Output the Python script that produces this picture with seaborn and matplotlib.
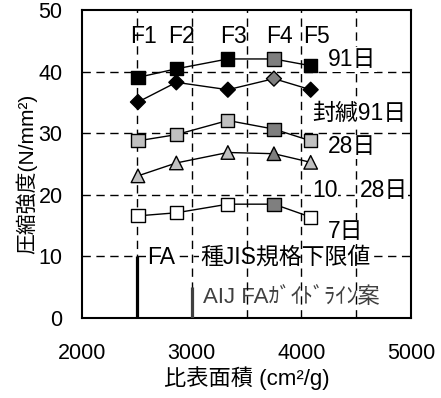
import matplotlib
matplotlib.use("Agg")
import matplotlib.pyplot as plt
import seaborn as sns
import pandas as pd

# Specific surface area of each fly ash (cm2/g)
fa_names = ["F1", "F2", "F3", "F4", "F5"]
surface_area = [2510, 2860, 3330, 3750, 4085]

# Compressive strength (N/mm2)
s_91d = [39.1, 40.5, 42.1, 42.1, 41.0]
s_sealed_91d = [35.1, 38.3, 37.1, 38.9, 37.1]
s_28d = [28.8, 29.8, 32.1, 30.7, 28.8]
s_10c_28d = [23.1, 25.2, 26.9, 26.7, 25.3]
s_7d = [16.6, 17.1, 18.5, 18.5, 16.4]

# Standard limits
jis_min_area = 2500
jis_line_top = 10
aij_min_area = 3000
aij_line_top = 5

series = [
    (s_91d, "s", "#000000", 90),
    (s_sealed_91d, "D", "#000000", 58),
    (s_28d, "s", "#c0c0c0", 90),
    (s_10c_28d, "^", "#c0c0c0", 95),
    (s_7d, "s", "#ffffff", 90),
]
f4_color = "#7f7f7f"

sns.set_theme(style="white")
plt.rcParams["font.family"] = ["Liberation Sans", "Noto Sans CJK JP"]
plt.rcParams["axes.unicode_minus"] = False

fig = plt.figure(figsize=(4.41, 3.98), dpi=100)
ax = fig.add_axes([0.186, 0.201, 0.746, 0.773])

for vals, mk, face, size in series:
    df = pd.DataFrame({"area": surface_area, "strength": vals, "fa": fa_names})
    df["kind"] = ["f4" if f == "F4" else "base" for f in fa_names]
    sns.lineplot(data=df, x="area", y="strength", color="black", lw=1.0,
                 sort=False, ax=ax, zorder=5)
    sns.scatterplot(data=df, x="area", y="strength", hue="kind",
                    palette={"base": face, "f4": f4_color}, marker=mk, s=size,
                    edgecolor="black", linewidth=1.0, legend=False, ax=ax,
                    zorder=6)

# Standard lower-limit bars
ax.plot([jis_min_area, jis_min_area], [0, jis_line_top], color="black", lw=2.3,
        solid_capstyle="butt", zorder=5)
ax.plot([aij_min_area, aij_min_area], [0, aij_line_top], color="#404040", lw=2.3,
        solid_capstyle="butt", zorder=5)

ax.set_xlim(2000, 5000)
ax.set_ylim(0, 50)
ax.set_xticks([2000, 3000, 4000, 5000])
ax.set_yticks([0, 10, 20, 30, 40, 50])
ax.set_xticklabels(["2000", "3000", "4000", "5000"])
ax.tick_params(axis="both", which="both", length=0, labelsize=15.5, colors="black")
ax.tick_params(axis="x", pad=18)
ax.tick_params(axis="y", pad=14)

# Dashed grid: horizontal lines sit under the text boxes, vertical ones over
# the lower notes
ax.grid(False)
for yv in [10, 20, 30, 40]:
    ax.axhline(yv, color="black", lw=1.0, ls=(0, (6, 4)), zorder=1)
for xv in [2500, 3000, 3500, 4000, 4500]:
    ax.axvline(xv, color="black", lw=1.0, ls=(0, (6, 4)), zorder=3)

for sp in ax.spines.values():
    sp.set_color("black")
    sp.set_linewidth(1.5)

ax.set_xlabel("比表面積 (cm²/g)", fontsize=16, color="black")
ax.set_ylabel("圧縮強度(N/mm²)", fontsize=15, color="black")
ax.xaxis.set_label_coords(0.5, -0.158)
ax.yaxis.set_label_coords(-0.137, 0.47)

# FA labels above the points
for name, xv in zip(fa_names, surface_area):
    ax.text(xv + 50, 45.8, name, fontsize=16.5, ha="center", va="center",
            color="black", zorder=7)

bbox = dict(facecolor="white", edgecolor="none", pad=0.5)
# Curing labels at the right end of the curves
side_labels = [
    ("91日", 4243, 42.0),
    ("封緘91日", 4097, 33.3),
    ("28日", 4243, 27.8),
    ("10", 4097, 20.8),
    ("28日", 4530, 20.8),
    ("7日", 4243, 14.0),
]
for txt, xv, yv in side_labels:
    ax.text(xv, yv, txt, fontsize=16.5, ha="left", va="center", color="black",
            bbox=bbox, zorder=4)

# Notes for the standard limits
for txt, xv, yv in [("FA", 2590, 9.9), ("種JIS規格下限値", 3076, 9.9)]:
    ax.text(xv, yv, txt, fontsize=16.5, ha="left", va="center", color="black",
            bbox=bbox, zorder=2)
ax.text(3103, 3.4, "AIJ FAｶﾞｲﾄﾞﾗｲﾝ案", fontsize=16, ha="left", va="center",
        color="#404040", zorder=2)

fig.savefig("out.png", dpi=100)
